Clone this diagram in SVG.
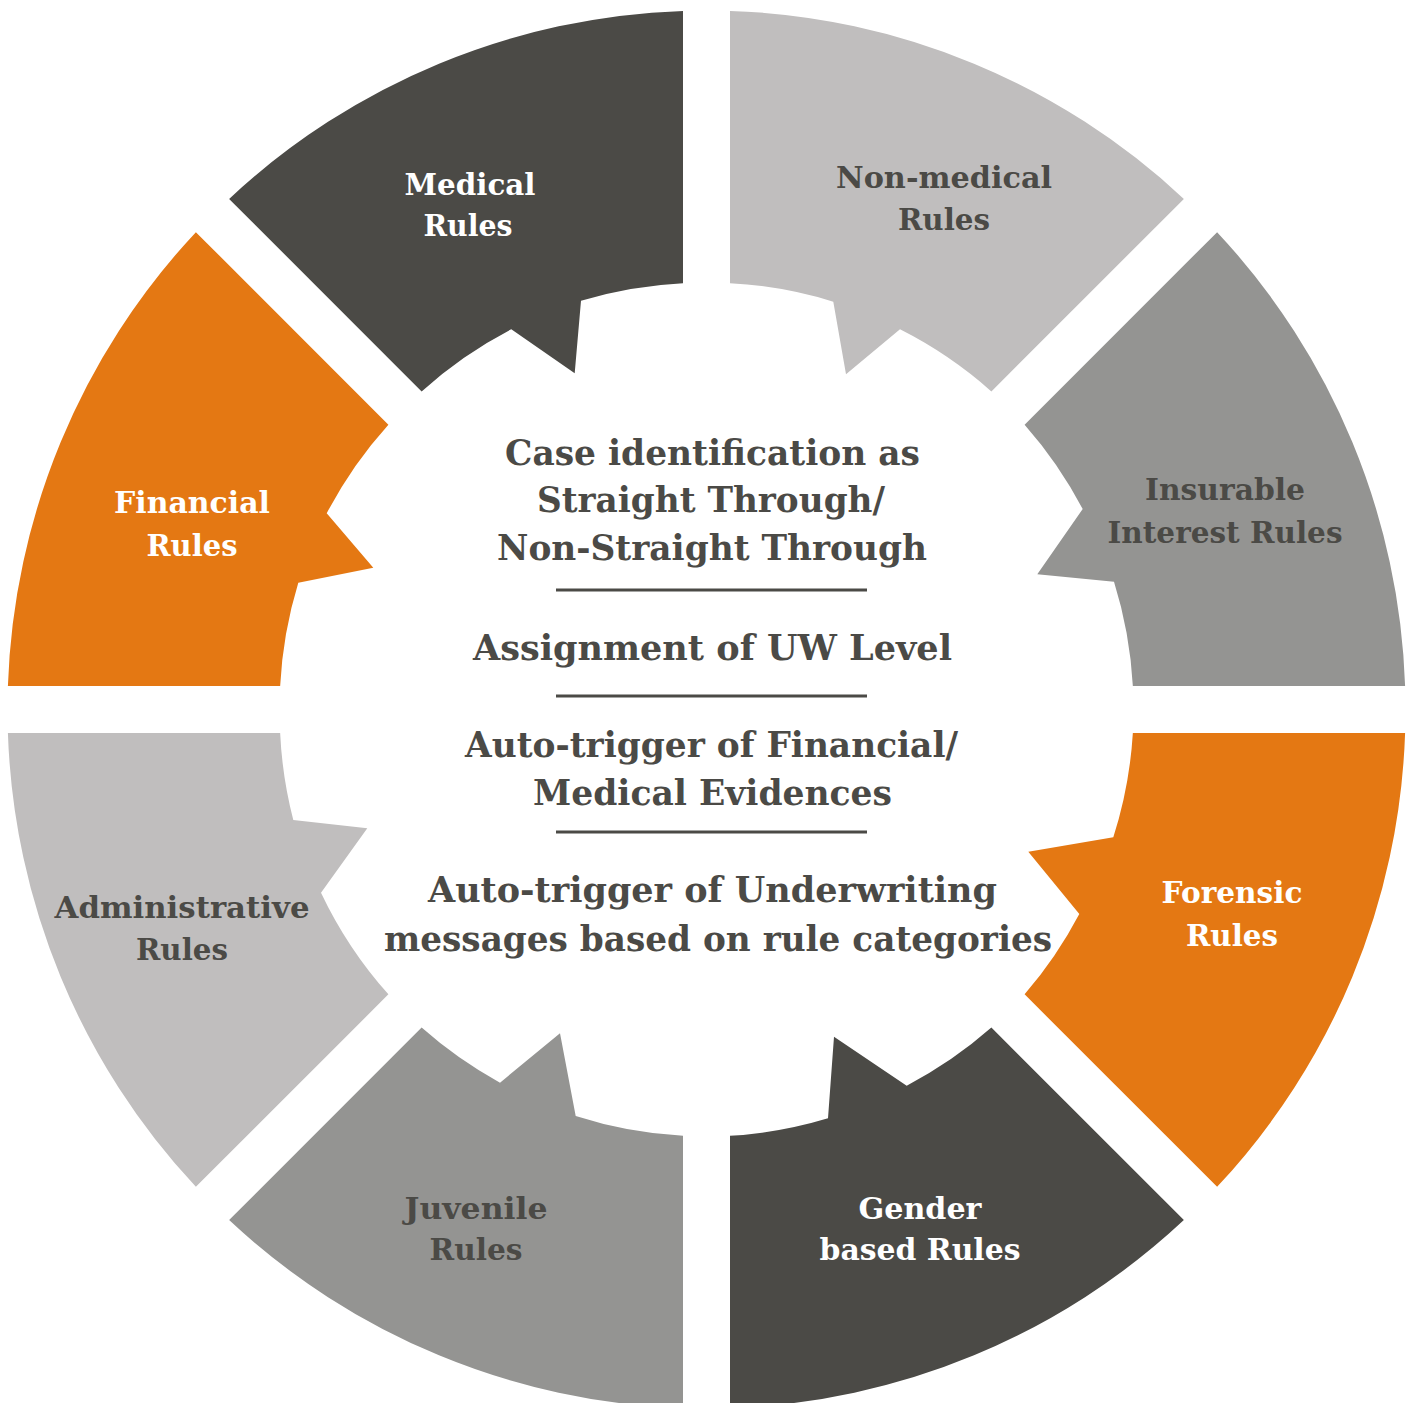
<svg xmlns="http://www.w3.org/2000/svg" width="1413" height="1403" viewBox="0 0 1413 1403">
<style>
.dark{fill:#4b4a46}
.light{fill:#c0bebe}
.mid{fill:#949492}
.orange{fill:#e47813}
.lbl{font-family:"DejaVu Serif","Liberation Serif",serif;font-weight:bold;font-size:30px;text-anchor:middle}
.w{fill:#ffffff}
.g{fill:#4b4a46}
.ctr{font-family:"DejaVu Serif","Liberation Serif",serif;font-weight:bold;font-size:36px;text-anchor:middle;fill:#4b4a46}
.sep{stroke:#4b4a46;stroke-width:3}
</style>
<rect width="1413" height="1403" fill="#ffffff"/>
<g id="insurable">
<path class="mid" d="M1405.1 686 A699 699 0 0 0 1217.11 232.13 L1024.6 424.64 A427 427 0 0 1 1082.7 509 L1037.3 574.3 L1114 581.7 A427 427 0 0 1 1132.85 686 Z"/>
<text class="lbl g" x="1225" y="500" textLength="160" lengthAdjust="spacingAndGlyphs">Insurable</text>
<text class="lbl g" x="1225" y="543" textLength="235" lengthAdjust="spacingAndGlyphs">Interest Rules</text>
</g>
<g id="nonmedical">
<path class="light" d="M1183.87 198.89 A699 699 0 0 0 730 10.9 L730 283.15 A427 427 0 0 1 833.3 301.7 L846 374.3 L900 329.3 A427 427 0 0 1 991.36 391.4 Z"/>
<text class="lbl g" x="944" y="188" textLength="216" lengthAdjust="spacingAndGlyphs">Non-medical</text>
<text class="lbl g" x="944" y="230" textLength="92" lengthAdjust="spacingAndGlyphs">Rules</text>
</g>
<g id="medical">
<path class="dark" d="M683 10.9 A699 699 0 0 0 229.13 198.89 L421.64 391.4 A427 427 0 0 1 511.3 329.3 L574.7 373.3 L581 300.7 A427 427 0 0 1 683 283.15 Z"/>
<text class="lbl w" x="470" y="195" textLength="131" lengthAdjust="spacingAndGlyphs">Medical</text>
<text class="lbl w" x="468" y="236" textLength="89" lengthAdjust="spacingAndGlyphs">Rules</text>
</g>
<g id="financial">
<path class="orange" d="M195.89 232.13 A699 699 0 0 0 7.9 686 L280.15 686 A427 427 0 0 1 298.3 582.7 L373.3 567.7 L326.7 513.3 A427 427 0 0 1 388.4 424.64 Z"/>
<text class="lbl w" x="192" y="513" textLength="156" lengthAdjust="spacingAndGlyphs">Financial</text>
<text class="lbl w" x="192" y="556" textLength="91" lengthAdjust="spacingAndGlyphs">Rules</text>
</g>
<g id="administrative">
<path class="light" d="M7.9 733 A699 699 0 0 0 195.89 1186.87 L388.4 994.36 A427 427 0 0 1 321 892.7 L367.3 828.3 L293.3 820 A427 427 0 0 1 280.15 733 Z"/>
<text class="lbl g" x="182" y="918" textLength="255" lengthAdjust="spacingAndGlyphs">Administrative</text>
<text class="lbl g" x="182" y="960" textLength="92" lengthAdjust="spacingAndGlyphs">Rules</text>
</g>
<g id="juvenile">
<path class="mid" d="M229.13 1220.11 A699 699 0 0 0 683 1408.1 L683 1135.85 A427 427 0 0 1 575.7 1116 L560 1033.3 L500 1082.7 A427 427 0 0 1 421.64 1027.6 Z"/>
<text class="lbl g" x="476" y="1219" textLength="143" lengthAdjust="spacingAndGlyphs">Juvenile</text>
<text class="lbl g" x="476" y="1260" textLength="93" lengthAdjust="spacingAndGlyphs">Rules</text>
</g>
<g id="gender">
<path class="dark" d="M730 1408.1 A699 699 0 0 0 1183.87 1220.11 L991.36 1027.6 A427 427 0 0 1 906.7 1085.7 L834 1036.7 L828 1118.3 A427 427 0 0 1 730 1135.85 Z"/>
<text class="lbl w" x="920" y="1219" textLength="123" lengthAdjust="spacingAndGlyphs">Gender</text>
<text class="lbl w" x="920" y="1260" textLength="201" lengthAdjust="spacingAndGlyphs">based Rules</text>
</g>
<g id="forensic">
<path class="orange" d="M1217.11 1186.87 A699 699 0 0 0 1405.1 733 L1132.85 733 A427 427 0 0 1 1113.3 837.3 L1028.3 851.7 L1079.3 914 A427 427 0 0 1 1024.6 994.36 Z"/>
<text class="lbl w" x="1232" y="903" textLength="141" lengthAdjust="spacingAndGlyphs">Forensic</text>
<text class="lbl w" x="1232" y="946" textLength="92" lengthAdjust="spacingAndGlyphs">Rules</text>
</g>
<g id="center">
<text class="ctr" x="712.5" y="464.5" textLength="415" lengthAdjust="spacingAndGlyphs">Case identification as</text>
<text class="ctr" x="711" y="512" textLength="348" lengthAdjust="spacingAndGlyphs">Straight Through/</text>
<text class="ctr" x="712" y="560" textLength="430" lengthAdjust="spacingAndGlyphs">Non-Straight Through</text>
<line class="sep" x1="556" y1="590" x2="867" y2="590"/>
<text class="ctr" x="712.5" y="659.5" textLength="479" lengthAdjust="spacingAndGlyphs">Assignment of UW Level</text>
<line class="sep" x1="556" y1="696" x2="867" y2="696"/>
<text class="ctr" x="711.5" y="757" textLength="493" lengthAdjust="spacingAndGlyphs">Auto-trigger of Financial/</text>
<text class="ctr" x="712.5" y="805" textLength="359" lengthAdjust="spacingAndGlyphs">Medical Evidences</text>
<line class="sep" x1="556" y1="832" x2="867" y2="832"/>
<text class="ctr" x="712.5" y="902" textLength="569" lengthAdjust="spacingAndGlyphs">Auto-trigger of Underwriting</text>
<text class="ctr" x="718" y="951" textLength="668" lengthAdjust="spacingAndGlyphs">messages based on rule categories</text>
</g>
<g id="connectors"></g>
</svg>
